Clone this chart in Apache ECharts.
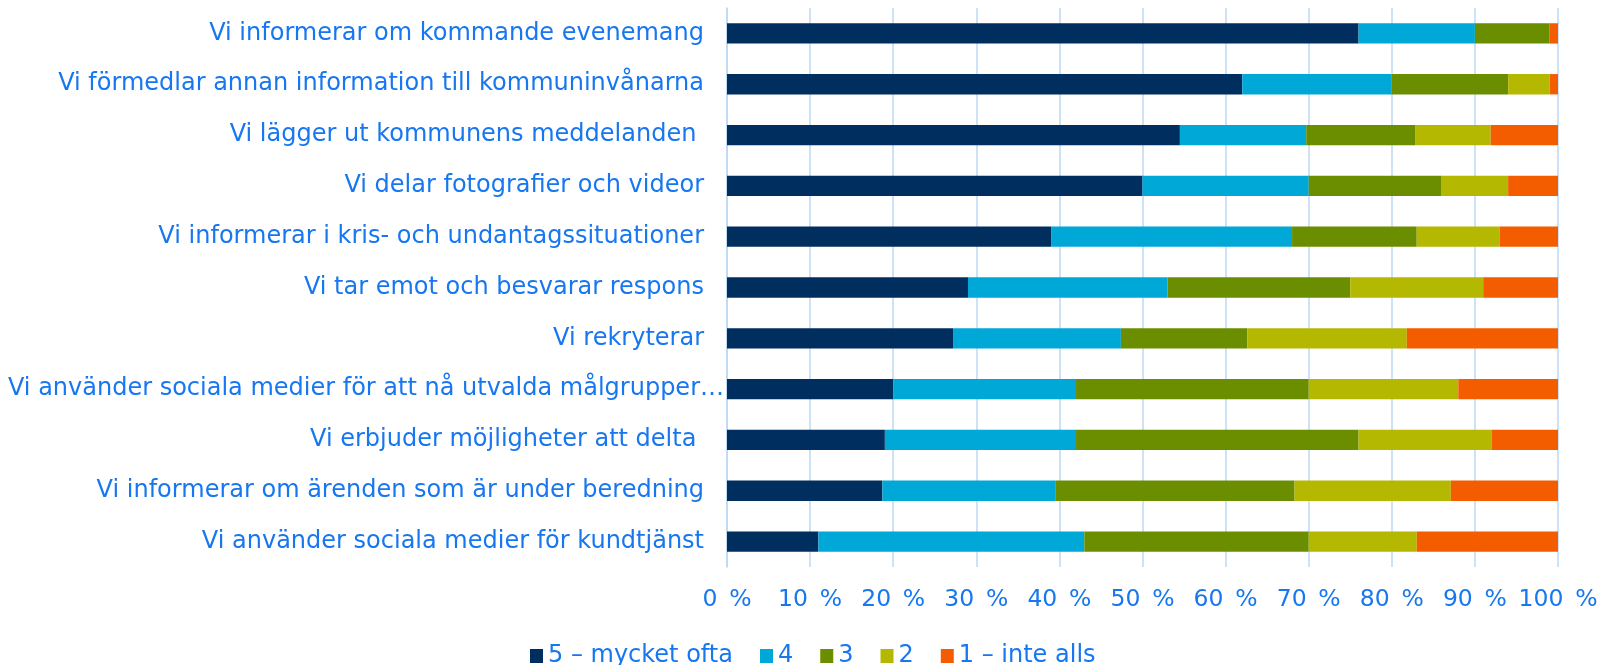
<!DOCTYPE html>
<html>
<head>
<meta charset="utf-8">
<script src="https://cdn.jsdelivr.net/npm/echarts@6/dist/echarts.min.js"></script>
<style>
  html, body { margin: 0; padding: 0; background: #fff; }
  #main { width: 1601px; height: 665px; }
</style>
</head>
<body>
<div id="main"></div>
<script>
// frågor (uppifrån och ned)
var categories = [
  'Vi informerar om kommande evenemang',
  'Vi förmedlar annan information till kommuninvånarna',
  'Vi lägger ut kommunens meddelanden ',
  'Vi delar fotografier och videor',
  'Vi informerar i kris- och undantagssituationer',
  'Vi tar emot och besvarar respons',
  'Vi rekryterar',
  'Vi använder sociala medier för att nå utvalda målgrupper…',
  'Vi erbjuder möjligheter att delta ',
  'Vi informerar om ärenden som är under beredning',
  'Vi använder sociala medier för kundtjänst'
];
var seriesNames = ['5 – mycket ofta', '4', '3', '2', '1 – inte alls'];
var v5 = [76, 62, 54.5, 50, 39, 29, 27.2, 20, 19, 18.7, 11];
var v4 = [14, 18, 15.2, 20, 29, 24, 20.2, 22, 23, 20.8, 32];
var v3 = [9, 14, 13.1, 16, 15, 22, 15.2, 28, 34, 28.8, 27];
var v2 = [0, 5, 9.1, 8, 10, 16, 19.2, 18, 16, 18.8, 13];
var v1 = [1, 1, 8.1, 6, 7, 9, 18.2, 12, 8, 12.9, 17];
var colors = ['#002f5f', '#00a8d8', '#6b8e00', '#b5b800', '#f45c00'];
var xTicks = ['0 %', '10 %', '20 %', '30 %', '40 %', '50 %', '60 %', '70 %', '80 %', '90 %', '100 %'];

var textColor = '#1777f0';
var fontFam = 'DejaVu Sans';
var fs = 24;
var values = [v5, v4, v3, v2, v1];

var chart = echarts.init(document.getElementById('main'));
var series = [];
for (var i = 0; i < values.length; i++) {
  series.push({
    name: seriesNames[i],
    type: 'bar',
    stack: 'tot',
    barWidth: '40%',
    data: values[i],
    itemStyle: { color: colors[i] }
  });
}

var option = {
  animation: false,
  color: colors,
  grid: { left: 727, right: 43, top: 8, bottom: 98 },
  xAxis: {
    type: 'value',
    min: 0, max: 100, interval: 10,
    axisLine: { show: false },
    axisTick: { show: false },
    splitLine: { show: true, lineStyle: { color: '#bcd8f5', width: 1.5 } },
    axisLabel: {
      margin: 21,
      color: textColor, fontFamily: fontFam, fontSize: 23.5,
      formatter: function (v) { return xTicks[Math.round(v / 10)].replace(' ', '\u2002'); }
    }
  },
  yAxis: {
    type: 'category',
    inverse: true,
    data: categories,
    axisLine: { show: true, lineStyle: { color: '#bcd8f5', width: 1.5 } },
    axisTick: { show: false },
    axisLabel: {
      margin: 3,
      color: textColor, fontFamily: fontFam, fontSize: fs,
      formatter: function (v) {
        return v.charAt(v.length - 1) === '…' ? '{e|' + v + '}' : '{n|' + v + '}';
      },
      rich: {
        n: { color: textColor, fontFamily: fontFam, fontSize: fs, padding: [0, 20, 0, 0] },
        e: { color: textColor, fontFamily: fontFam, fontSize: fs }
      }
    }
  },
  legend: {
    left: 525, top: 639,
    itemWidth: 13, itemHeight: 14, itemGap: 27,
    icon: 'rect',
    textStyle: { color: textColor, fontFamily: fontFam, fontSize: fs, padding: [0, 0, 0, 0] },
    data: seriesNames
  },
  series: series
};
chart.setOption(option);
</script>
</body>
</html>
